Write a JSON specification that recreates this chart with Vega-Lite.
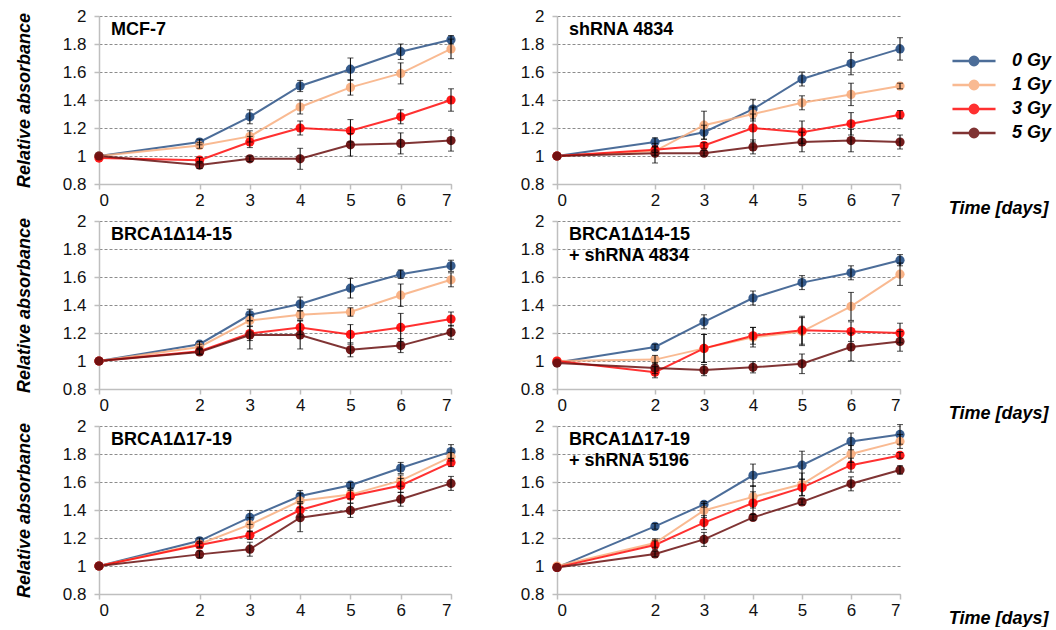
{
"$schema": "https://vega.github.io/schema/vega-lite/v6.json",
"padding": {"left": 15, "top": 7, "right": 0, "bottom": 0},
"background": "white",
"bounds": "flush",
"align": "each",
"columns": 2,
"spacing": {"row": 37, "column": 106},
"config": {
  "font": "Liberation Sans",
  "view": {"stroke": null},
  "axis": {"domainColor": "#BFBFBF", "domainWidth": 1.5, "tickColor": "#BFBFBF", "tickSize": 5, "tickWidth": 1.5, "labelFont": "Liberation Sans", "labelFontSize": 17, "labelColor": "#111111", "titleFont": "Liberation Sans", "titleFontSize": 18, "titleFontWeight": "bold", "titleFontStyle": "italic", "titleColor": "#000000"},
  "axisY": {"gridColor": "#8C8C8C", "gridDash": [3, 2], "gridWidth": 1, "labelPadding": 8, "titlePadding": 29},
  "axisX": {"grid": false, "labelPadding": 3},
  "title": {"anchor": "start", "frame": "group", "offset": -32, "dx": 12, "baseline": "top", "fontSize": 18, "fontWeight": "bold", "font": "Liberation Sans", "color": "#000000", "lineHeight": 21}
},
"datasets": {
"rows": [
{"p":"A","g":"0 Gy","d":0,"v":1.0,"e":0},{"p":"A","g":"0 Gy","d":2,"v":1.10,"e":0.02},{"p":"A","g":"0 Gy","d":3,"v":1.28,"e":0.05},{"p":"A","g":"0 Gy","d":4,"v":1.50,"e":0.04},{"p":"A","g":"0 Gy","d":5,"v":1.62,"e":0.08},{"p":"A","g":"0 Gy","d":6,"v":1.745,"e":0.055},{"p":"A","g":"0 Gy","d":7,"v":1.83,"e":0.03},
{"p":"A","g":"1 Gy","d":0,"v":1.0,"e":0},{"p":"A","g":"1 Gy","d":2,"v":1.075,"e":0.02},{"p":"A","g":"1 Gy","d":3,"v":1.14,"e":0.04},{"p":"A","g":"1 Gy","d":4,"v":1.35,"e":0.05},{"p":"A","g":"1 Gy","d":5,"v":1.49,"e":0.055},{"p":"A","g":"1 Gy","d":6,"v":1.59,"e":0.075},{"p":"A","g":"1 Gy","d":7,"v":1.765,"e":0.07},
{"p":"A","g":"3 Gy","d":0,"v":0.985,"e":0},{"p":"A","g":"3 Gy","d":2,"v":0.97,"e":0.02},{"p":"A","g":"3 Gy","d":3,"v":1.10,"e":0.04},{"p":"A","g":"3 Gy","d":4,"v":1.20,"e":0.05},{"p":"A","g":"3 Gy","d":5,"v":1.18,"e":0.08},{"p":"A","g":"3 Gy","d":6,"v":1.28,"e":0.05},{"p":"A","g":"3 Gy","d":7,"v":1.40,"e":0.08},
{"p":"A","g":"5 Gy","d":0,"v":1.0,"e":0},{"p":"A","g":"5 Gy","d":2,"v":0.935,"e":0.025},{"p":"A","g":"5 Gy","d":3,"v":0.98,"e":0.02},{"p":"A","g":"5 Gy","d":4,"v":0.98,"e":0.075},{"p":"A","g":"5 Gy","d":5,"v":1.08,"e":0.08},{"p":"A","g":"5 Gy","d":6,"v":1.09,"e":0.075},{"p":"A","g":"5 Gy","d":7,"v":1.11,"e":0.075},
{"p":"B","g":"0 Gy","d":0,"v":1.0,"e":0},{"p":"B","g":"0 Gy","d":2,"v":1.10,"e":0.03},{"p":"B","g":"0 Gy","d":3,"v":1.17,"e":0.05},{"p":"B","g":"0 Gy","d":4,"v":1.335,"e":0.07},{"p":"B","g":"0 Gy","d":5,"v":1.55,"e":0.05},{"p":"B","g":"0 Gy","d":6,"v":1.66,"e":0.08},{"p":"B","g":"0 Gy","d":7,"v":1.765,"e":0.08},
{"p":"B","g":"1 Gy","d":0,"v":1.0,"e":0},{"p":"B","g":"1 Gy","d":2,"v":1.035,"e":0.03},{"p":"B","g":"1 Gy","d":3,"v":1.22,"e":0.1},{"p":"B","g":"1 Gy","d":4,"v":1.30,"e":0.05},{"p":"B","g":"1 Gy","d":5,"v":1.38,"e":0.05},{"p":"B","g":"1 Gy","d":6,"v":1.44,"e":0.08},{"p":"B","g":"1 Gy","d":7,"v":1.50,"e":0.02},
{"p":"B","g":"3 Gy","d":0,"v":1.0,"e":0},{"p":"B","g":"3 Gy","d":2,"v":1.045,"e":0.02},{"p":"B","g":"3 Gy","d":3,"v":1.075,"e":0.02},{"p":"B","g":"3 Gy","d":4,"v":1.20,"e":0.1},{"p":"B","g":"3 Gy","d":5,"v":1.17,"e":0.08},{"p":"B","g":"3 Gy","d":6,"v":1.23,"e":0.08},{"p":"B","g":"3 Gy","d":7,"v":1.295,"e":0.03},
{"p":"B","g":"5 Gy","d":0,"v":1.0,"e":0},{"p":"B","g":"5 Gy","d":2,"v":1.02,"e":0.07},{"p":"B","g":"5 Gy","d":3,"v":1.02,"e":0.02},{"p":"B","g":"5 Gy","d":4,"v":1.065,"e":0.05},{"p":"B","g":"5 Gy","d":5,"v":1.10,"e":0.07},{"p":"B","g":"5 Gy","d":6,"v":1.11,"e":0.08},{"p":"B","g":"5 Gy","d":7,"v":1.10,"e":0.05},
{"p":"C","g":"0 Gy","d":0,"v":1.0,"e":0},{"p":"C","g":"0 Gy","d":2,"v":1.12,"e":0.02},{"p":"C","g":"0 Gy","d":3,"v":1.33,"e":0.04},{"p":"C","g":"0 Gy","d":4,"v":1.407,"e":0.05},{"p":"C","g":"0 Gy","d":5,"v":1.52,"e":0.07},{"p":"C","g":"0 Gy","d":6,"v":1.62,"e":0.03},{"p":"C","g":"0 Gy","d":7,"v":1.68,"e":0.04},
{"p":"C","g":"1 Gy","d":0,"v":1.0,"e":0},{"p":"C","g":"1 Gy","d":2,"v":1.10,"e":0.02},{"p":"C","g":"1 Gy","d":3,"v":1.29,"e":0.04},{"p":"C","g":"1 Gy","d":4,"v":1.33,"e":0.03},{"p":"C","g":"1 Gy","d":5,"v":1.35,"e":0.03},{"p":"C","g":"1 Gy","d":6,"v":1.47,"e":0.08},{"p":"C","g":"1 Gy","d":7,"v":1.58,"e":0.05},
{"p":"C","g":"3 Gy","d":0,"v":1.0,"e":0},{"p":"C","g":"3 Gy","d":2,"v":1.07,"e":0.02},{"p":"C","g":"3 Gy","d":3,"v":1.196,"e":0.05},{"p":"C","g":"3 Gy","d":4,"v":1.24,"e":0.05},{"p":"C","g":"3 Gy","d":5,"v":1.19,"e":0.07},{"p":"C","g":"3 Gy","d":6,"v":1.24,"e":0.1},{"p":"C","g":"3 Gy","d":7,"v":1.30,"e":0.05},
{"p":"C","g":"5 Gy","d":0,"v":1.0,"e":0},{"p":"C","g":"5 Gy","d":2,"v":1.065,"e":0.02},{"p":"C","g":"5 Gy","d":3,"v":1.186,"e":0.1},{"p":"C","g":"5 Gy","d":4,"v":1.186,"e":0.1},{"p":"C","g":"5 Gy","d":5,"v":1.08,"e":0.05},{"p":"C","g":"5 Gy","d":6,"v":1.11,"e":0.05},{"p":"C","g":"5 Gy","d":7,"v":1.205,"e":0.05},
{"p":"D","g":"0 Gy","d":0,"v":0.99,"e":0},{"p":"D","g":"0 Gy","d":2,"v":1.10,"e":0.02},{"p":"D","g":"0 Gy","d":3,"v":1.28,"e":0.05},{"p":"D","g":"0 Gy","d":4,"v":1.45,"e":0.05},{"p":"D","g":"0 Gy","d":5,"v":1.56,"e":0.05},{"p":"D","g":"0 Gy","d":6,"v":1.63,"e":0.05},{"p":"D","g":"0 Gy","d":7,"v":1.72,"e":0.04},
{"p":"D","g":"1 Gy","d":0,"v":1.0,"e":0},{"p":"D","g":"1 Gy","d":2,"v":1.01,"e":0.03},{"p":"D","g":"1 Gy","d":3,"v":1.09,"e":0.1},{"p":"D","g":"1 Gy","d":4,"v":1.17,"e":0.07},{"p":"D","g":"1 Gy","d":5,"v":1.21,"e":0.1},{"p":"D","g":"1 Gy","d":6,"v":1.39,"e":0.1},{"p":"D","g":"1 Gy","d":7,"v":1.62,"e":0.08},
{"p":"D","g":"3 Gy","d":0,"v":1.0,"e":0},{"p":"D","g":"3 Gy","d":2,"v":0.92,"e":0.04},{"p":"D","g":"3 Gy","d":3,"v":1.09,"e":0.1},{"p":"D","g":"3 Gy","d":4,"v":1.18,"e":0.06},{"p":"D","g":"3 Gy","d":5,"v":1.22,"e":0.1},{"p":"D","g":"3 Gy","d":6,"v":1.21,"e":0.07},{"p":"D","g":"3 Gy","d":7,"v":1.20,"e":0.07},
{"p":"D","g":"5 Gy","d":0,"v":0.985,"e":0},{"p":"D","g":"5 Gy","d":2,"v":0.95,"e":0.04},{"p":"D","g":"5 Gy","d":3,"v":0.935,"e":0.04},{"p":"D","g":"5 Gy","d":4,"v":0.955,"e":0.04},{"p":"D","g":"5 Gy","d":5,"v":0.98,"e":0.07},{"p":"D","g":"5 Gy","d":6,"v":1.10,"e":0.1},{"p":"D","g":"5 Gy","d":7,"v":1.14,"e":0.07},
{"p":"E","g":"0 Gy","d":0,"v":1.0,"e":0},{"p":"E","g":"0 Gy","d":2,"v":1.18,"e":0.02},{"p":"E","g":"0 Gy","d":3,"v":1.347,"e":0.05},{"p":"E","g":"0 Gy","d":4,"v":1.50,"e":0.04},{"p":"E","g":"0 Gy","d":5,"v":1.577,"e":0.02},{"p":"E","g":"0 Gy","d":6,"v":1.70,"e":0.04},{"p":"E","g":"0 Gy","d":7,"v":1.817,"e":0.05},
{"p":"E","g":"1 Gy","d":0,"v":1.0,"e":0},{"p":"E","g":"1 Gy","d":2,"v":1.157,"e":0.02},{"p":"E","g":"1 Gy","d":3,"v":1.295,"e":0.05},{"p":"E","g":"1 Gy","d":4,"v":1.466,"e":0.05},{"p":"E","g":"1 Gy","d":5,"v":1.51,"e":0.03},{"p":"E","g":"1 Gy","d":6,"v":1.61,"e":0.04},{"p":"E","g":"1 Gy","d":7,"v":1.78,"e":0.03},
{"p":"E","g":"3 Gy","d":0,"v":1.0,"e":0},{"p":"E","g":"3 Gy","d":2,"v":1.15,"e":0.02},{"p":"E","g":"3 Gy","d":3,"v":1.22,"e":0.03},{"p":"E","g":"3 Gy","d":4,"v":1.40,"e":0.05},{"p":"E","g":"3 Gy","d":5,"v":1.50,"e":0.05},{"p":"E","g":"3 Gy","d":6,"v":1.575,"e":0.05},{"p":"E","g":"3 Gy","d":7,"v":1.74,"e":0.03},
{"p":"E","g":"5 Gy","d":0,"v":1.0,"e":0},{"p":"E","g":"5 Gy","d":2,"v":1.083,"e":0.025},{"p":"E","g":"5 Gy","d":3,"v":1.12,"e":0.05},{"p":"E","g":"5 Gy","d":4,"v":1.345,"e":0.1},{"p":"E","g":"5 Gy","d":5,"v":1.397,"e":0.05},{"p":"E","g":"5 Gy","d":6,"v":1.477,"e":0.05},{"p":"E","g":"5 Gy","d":7,"v":1.59,"e":0.05},
{"p":"F","g":"0 Gy","d":0,"v":0.99,"e":0},{"p":"F","g":"0 Gy","d":2,"v":1.283,"e":0.02},{"p":"F","g":"0 Gy","d":3,"v":1.44,"e":0.02},{"p":"F","g":"0 Gy","d":4,"v":1.648,"e":0.08},{"p":"F","g":"0 Gy","d":5,"v":1.72,"e":0.1},{"p":"F","g":"0 Gy","d":6,"v":1.89,"e":0.06},{"p":"F","g":"0 Gy","d":7,"v":1.94,"e":0.07},
{"p":"F","g":"1 Gy","d":0,"v":1.0,"e":0},{"p":"F","g":"1 Gy","d":2,"v":1.164,"e":0.03},{"p":"F","g":"1 Gy","d":3,"v":1.397,"e":0.05},{"p":"F","g":"1 Gy","d":4,"v":1.494,"e":0.08},{"p":"F","g":"1 Gy","d":5,"v":1.584,"e":0.08},{"p":"F","g":"1 Gy","d":6,"v":1.80,"e":0.06},{"p":"F","g":"1 Gy","d":7,"v":1.89,"e":0.05},
{"p":"F","g":"3 Gy","d":0,"v":0.99,"e":0},{"p":"F","g":"3 Gy","d":2,"v":1.15,"e":0.03},{"p":"F","g":"3 Gy","d":3,"v":1.31,"e":0.05},{"p":"F","g":"3 Gy","d":4,"v":1.45,"e":0.08},{"p":"F","g":"3 Gy","d":5,"v":1.56,"e":0.06},{"p":"F","g":"3 Gy","d":6,"v":1.72,"e":0.05},{"p":"F","g":"3 Gy","d":7,"v":1.79,"e":0.02},
{"p":"F","g":"5 Gy","d":0,"v":0.99,"e":0},{"p":"F","g":"5 Gy","d":2,"v":1.086,"e":0.02},{"p":"F","g":"5 Gy","d":3,"v":1.19,"e":0.05},{"p":"F","g":"5 Gy","d":4,"v":1.347,"e":0.02},{"p":"F","g":"5 Gy","d":5,"v":1.458,"e":0.02},{"p":"F","g":"5 Gy","d":6,"v":1.587,"e":0.05},{"p":"F","g":"5 Gy","d":7,"v":1.686,"e":0.03}
]
},
"data": {"name": "rows"},
"concat": [
 {"width": 352, "height": 168, "title": {"text": "MCF-7"},
  "transform": [{"filter": "datum.p == 'A'"}],
  "encoding": {
   "x": {"field": "d", "type": "quantitative", "scale": {"domain": [0, 7]}, "axis": {"values": [0, 2, 3, 4, 5, 6, 7], "title": null}},
   "y": {"field": "v", "type": "quantitative", "scale": {"domain": [0.8, 2]}, "axis": {"values": [0.8, 1, 1.2, 1.4, 1.6, 1.8, 2], "format": "~g", "title": "Relative absorbance"}}
  },
  "layer": [
   {"mark": {"type": "line", "strokeWidth": 2, "opacity": 0.85}, "encoding": {"color": {"field": "g", "type": "nominal", "scale": {"domain": ["0 Gy", "1 Gy", "3 Gy", "5 Gy"], "range": ["#2D5487", "#F8AE7F", "#FF0D0D", "#6A1010"]}, "legend": {"title": null, "orient": "none", "legendX": 863, "legendY": 33, "symbolType": "M -2.05 0 L 2.05 0 M -0.4 0 A 0.4 0.4 0 1 0 0.4 0 A 0.4 0.4 0 1 0 -0.4 0 Z", "symbolSize": 441, "symbolStrokeWidth": 2.5, "labelFont": "Liberation Sans", "labelFontSize": 18, "labelFontWeight": "bold", "labelFontStyle": "italic", "labelColor": "#000000", "labelOffset": 26, "rowPadding": 2, "padding": 0, "encode": {"symbols": {"update": {"fill": {"scale": "color", "field": "value"}, "stroke": {"scale": "color", "field": "value"}, "opacity": {"value": 1}}}}}}}},
   {"mark": {"type": "point", "filled": true, "size": 85, "opacity": 0.95}, "encoding": {"color": {"field": "g", "type": "nominal"}}},
   {"transform": [{"filter": "datum.e > 0"}], "mark": {"type": "errorbar", "ticks": true, "size": 6, "thickness": 1, "color": "#000000"}, "encoding": {"yError": {"field": "e"}}}
  ]},
 {"width": 343, "height": 168, "title": {"text": "shRNA 4834"},
  "transform": [{"filter": "datum.p == 'B'"}],
  "encoding": {
   "x": {"field": "d", "type": "quantitative", "scale": {"domain": [0, 7]}, "axis": {"values": [0, 2, 3, 4, 5, 6, 7], "title": "Time [days]", "titleX": 491, "titleY": 24, "titleAlign": "right", "titleBaseline": "middle"}},
   "y": {"field": "v", "type": "quantitative", "scale": {"domain": [0.8, 2]}, "axis": {"values": [0.8, 1, 1.2, 1.4, 1.6, 1.8, 2], "format": "~g", "title": null}}
  },
  "layer": [
   {"mark": {"type": "line", "strokeWidth": 2, "opacity": 0.85}, "encoding": {"color": {"field": "g", "type": "nominal"}}},
   {"mark": {"type": "point", "filled": true, "size": 85, "opacity": 0.95}, "encoding": {"color": {"field": "g", "type": "nominal"}}},
   {"transform": [{"filter": "datum.e > 0"}], "mark": {"type": "errorbar", "ticks": true, "size": 6, "thickness": 1, "color": "#000000"}, "encoding": {"yError": {"field": "e"}}}
  ]},
 {"width": 352, "height": 168, "title": {"text": "BRCA1Δ14-15"},
  "transform": [{"filter": "datum.p == 'C'"}],
  "encoding": {
   "x": {"field": "d", "type": "quantitative", "scale": {"domain": [0, 7]}, "axis": {"values": [0, 2, 3, 4, 5, 6, 7], "title": null}},
   "y": {"field": "v", "type": "quantitative", "scale": {"domain": [0.8, 2]}, "axis": {"values": [0.8, 1, 1.2, 1.4, 1.6, 1.8, 2], "format": "~g", "title": "Relative absorbance"}}
  },
  "layer": [
   {"mark": {"type": "line", "strokeWidth": 2, "opacity": 0.85}, "encoding": {"color": {"field": "g", "type": "nominal"}}},
   {"mark": {"type": "point", "filled": true, "size": 85, "opacity": 0.95}, "encoding": {"color": {"field": "g", "type": "nominal"}}},
   {"transform": [{"filter": "datum.e > 0"}], "mark": {"type": "errorbar", "ticks": true, "size": 6, "thickness": 1, "color": "#000000"}, "encoding": {"yError": {"field": "e"}}}
  ]},
 {"width": 343, "height": 168, "title": {"text": ["BRCA1Δ14-15", "+ shRNA 4834"], "offset": -53},
  "transform": [{"filter": "datum.p == 'D'"}],
  "encoding": {
   "x": {"field": "d", "type": "quantitative", "scale": {"domain": [0, 7]}, "axis": {"values": [0, 2, 3, 4, 5, 6, 7], "title": "Time [days]", "titleX": 491, "titleY": 24, "titleAlign": "right", "titleBaseline": "middle"}},
   "y": {"field": "v", "type": "quantitative", "scale": {"domain": [0.8, 2]}, "axis": {"values": [0.8, 1, 1.2, 1.4, 1.6, 1.8, 2], "format": "~g", "title": null}}
  },
  "layer": [
   {"mark": {"type": "line", "strokeWidth": 2, "opacity": 0.85}, "encoding": {"color": {"field": "g", "type": "nominal"}}},
   {"mark": {"type": "point", "filled": true, "size": 85, "opacity": 0.95}, "encoding": {"color": {"field": "g", "type": "nominal"}}},
   {"transform": [{"filter": "datum.e > 0"}], "mark": {"type": "errorbar", "ticks": true, "size": 6, "thickness": 1, "color": "#000000"}, "encoding": {"yError": {"field": "e"}}}
  ]},
 {"width": 352, "height": 168, "title": {"text": "BRCA1Δ17-19"},
  "transform": [{"filter": "datum.p == 'E'"}],
  "encoding": {
   "x": {"field": "d", "type": "quantitative", "scale": {"domain": [0, 7]}, "axis": {"values": [0, 2, 3, 4, 5, 6, 7], "title": null}},
   "y": {"field": "v", "type": "quantitative", "scale": {"domain": [0.8, 2]}, "axis": {"values": [0.8, 1, 1.2, 1.4, 1.6, 1.8, 2], "format": "~g", "title": "Relative absorbance"}}
  },
  "layer": [
   {"mark": {"type": "line", "strokeWidth": 2, "opacity": 0.85}, "encoding": {"color": {"field": "g", "type": "nominal"}}},
   {"mark": {"type": "point", "filled": true, "size": 85, "opacity": 0.95}, "encoding": {"color": {"field": "g", "type": "nominal"}}},
   {"transform": [{"filter": "datum.e > 0"}], "mark": {"type": "errorbar", "ticks": true, "size": 6, "thickness": 1, "color": "#000000"}, "encoding": {"yError": {"field": "e"}}}
  ]},
 {"width": 343, "height": 168, "title": {"text": ["BRCA1Δ17-19", "+ shRNA 5196"], "offset": -53},
  "transform": [{"filter": "datum.p == 'F'"}],
  "encoding": {
   "x": {"field": "d", "type": "quantitative", "scale": {"domain": [0, 7]}, "axis": {"values": [0, 2, 3, 4, 5, 6, 7], "title": "Time [days]", "titleX": 491, "titleY": 24, "titleAlign": "right", "titleBaseline": "middle"}},
   "y": {"field": "v", "type": "quantitative", "scale": {"domain": [0.8, 2]}, "axis": {"values": [0.8, 1, 1.2, 1.4, 1.6, 1.8, 2], "format": "~g", "title": null}}
  },
  "layer": [
   {"mark": {"type": "line", "strokeWidth": 2, "opacity": 0.85}, "encoding": {"color": {"field": "g", "type": "nominal"}}},
   {"mark": {"type": "point", "filled": true, "size": 85, "opacity": 0.95}, "encoding": {"color": {"field": "g", "type": "nominal"}}},
   {"transform": [{"filter": "datum.e > 0"}], "mark": {"type": "errorbar", "ticks": true, "size": 6, "thickness": 1, "color": "#000000"}, "encoding": {"yError": {"field": "e"}}}
  ]}
]
}
